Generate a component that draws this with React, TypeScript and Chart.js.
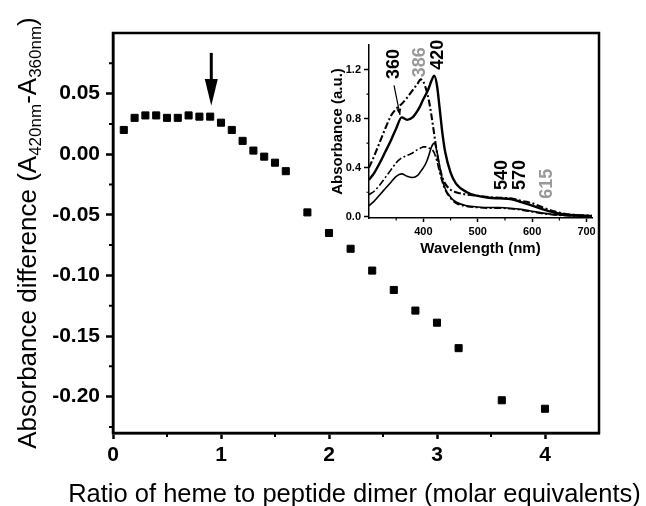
import React, { useEffect, useRef } from "react";
import { Chart, registerables } from "chart.js";

Chart.register(...registerables);

const FONT = "'Liberation Sans', Arial, Helvetica, sans-serif";

// ---------- Main titration plot ----------
const ratio = [0.1, 0.2, 0.3, 0.4, 0.5, 0.6, 0.7, 0.8, 0.9, 1.0, 1.1, 1.2, 1.3, 1.4, 1.5, 1.6, 1.8, 2.0, 2.2, 2.4, 2.6, 2.8, 3.0, 3.2, 3.6, 4.0];
const absDiff = [0.020, 0.030, 0.032, 0.032, 0.030, 0.030, 0.032, 0.031, 0.031, 0.026, 0.020, 0.011, 0.003, -0.002, -0.007, -0.014, -0.048, -0.065, -0.078, -0.096, -0.112, -0.129, -0.139, -0.160, -0.203, -0.210];

const mainXTicks = [0, 1, 2, 3, 4];
const mainYTicks = [-0.2, -0.15, -0.1, -0.05, 0, 0.05];
const mainXTitle = "Ratio of heme to peptide dimer (molar equivalents)";
const mainYTitleParts: [string, boolean][] = [
  ["Absorbance difference (A", false],
  ["420nm", true],
  ["-A", false],
  ["360nm", true],
  [")", false],
];
const mainMinorX = [0.5, 1.5, 2.5, 3.5];
const mainMinorY = [0.075, 0.025, -0.025, -0.075, -0.125, -0.175, -0.225];
// arrow marking the break point (data units)
const arrowRatio = 0.91;
const arrowFrom = 0.0836;
const arrowHeadBase = 0.062;
const arrowTo = 0.04;

// ---------- Inset spectra ----------
const wavelength = [300, 310, 320, 330, 340, 350, 360, 370, 380, 390, 395, 400, 405, 410, 415, 420, 425, 430, 435, 440, 450, 460, 480, 500, 520, 540, 560, 580, 600, 620, 640, 660, 680, 700, 710];
const specSolidHigh = [0.30, 0.36, 0.44, 0.53, 0.62, 0.72, 0.81, 0.79, 0.81, 0.87, 0.91, 0.96, 1.00, 1.05, 1.11, 1.15, 1.07, 0.88, 0.68, 0.53, 0.36, 0.27, 0.20, 0.17, 0.155, 0.15, 0.145, 0.12, 0.09, 0.06, 0.035, 0.02, 0.012, 0.008, 0.006];
const specDashHigh = [0.40, 0.50, 0.61, 0.72, 0.82, 0.88, 0.92, 0.97, 1.03, 1.09, 1.12, 1.10, 1.04, 0.95, 0.82, 0.67, 0.52, 0.40, 0.32, 0.27, 0.22, 0.20, 0.18, 0.17, 0.16, 0.155, 0.15, 0.13, 0.11, 0.075, 0.045, 0.025, 0.015, 0.01, 0.008];
const specSolidLow = [0.09, 0.13, 0.18, 0.23, 0.28, 0.33, 0.35, 0.33, 0.32, 0.34, 0.37, 0.40, 0.44, 0.50, 0.57, 0.60, 0.53, 0.41, 0.30, 0.23, 0.16, 0.12, 0.09, 0.08, 0.075, 0.075, 0.07, 0.06, 0.045, 0.03, 0.018, 0.01, 0.007, 0.005, 0.004];
const specDashLow = [0.18, 0.21, 0.26, 0.32, 0.38, 0.44, 0.48, 0.50, 0.52, 0.55, 0.56, 0.57, 0.57, 0.56, 0.55, 0.52, 0.45, 0.36, 0.28, 0.22, 0.15, 0.11, 0.085, 0.075, 0.07, 0.07, 0.065, 0.055, 0.04, 0.025, 0.015, 0.01, 0.006, 0.004, 0.003];

const insetXTicks = [400, 500, 600, 700];
const insetYTicks = [0, 0.4, 0.8, 1.2];
const insetXTitle = "Wavelength (nm)";
const insetYTitle = "Absorbance (a.u.)";
const insetMinorX = [350, 450, 550, 650];
const insetMinorY = [0.2, 0.6, 1.0];

const peakLabels = ["360", "386", "420", "540", "570", "615"];
const peakLabelNm = [346, 393, 427, 544, 577, 627];
const peakLabelAbs = [1.245, 1.26, 1.32, 0.34, 0.34, 0.27];
const peakLabelColor = ["#000", "#999", "#000", "#000", "#000", "#999"];
const pointerFrom = [346, 1.07];
const pointerTo = [357, 0.83];

const INSET_LEFT = 325;
const INSET_TOP = 33;
const INSET_W = 280;
const INSET_H = 232;

Chart.defaults.font.family = FONT;
Chart.defaults.color = "#000";

const mainDecor = {
  id: "mainDecor",
  afterDraw(chart: any) {
    const { ctx, chartArea: a, scales } = chart;
    const x = scales.x;
    const y = scales.y;
    ctx.save();
    ctx.strokeStyle = "#000";
    ctx.fillStyle = "#000";
    ctx.lineWidth = 2.5;
    ctx.strokeRect(a.left, a.top, a.right - a.left, a.bottom - a.top);
    // minor ticks
    ctx.lineWidth = 2;
    ctx.beginPath();
    mainMinorX.forEach((v) => {
      const px = x.getPixelForValue(v);
      ctx.moveTo(px, a.bottom);
      ctx.lineTo(px, a.bottom + 4);
    });
    mainMinorY.forEach((v) => {
      const py = y.getPixelForValue(v);
      ctx.moveTo(a.left, py);
      ctx.lineTo(a.left - 4, py);
    });
    ctx.stroke();
    // arrow
    const ax = x.getPixelForValue(arrowRatio);
    const y0 = y.getPixelForValue(arrowFrom);
    const yb = y.getPixelForValue(arrowHeadBase);
    const yt = y.getPixelForValue(arrowTo);
    ctx.lineWidth = 3;
    ctx.beginPath();
    ctx.moveTo(ax, y0);
    ctx.lineTo(ax, yb + 1);
    ctx.stroke();
    ctx.beginPath();
    ctx.moveTo(ax - 6.5, yb);
    ctx.lineTo(ax + 6.5, yb);
    ctx.lineTo(ax, yt);
    ctx.closePath();
    ctx.fill();
    // x title (drawn without width compression)
    ctx.font = `25.5px ${FONT}`;
    ctx.textAlign = "center";
    ctx.textBaseline = "alphabetic";
    ctx.fillText(mainXTitle, (a.left + a.right) / 2 - 1.5, a.bottom + 69);
    // y title with subscripts
    const mainFont = `26px ${FONT}`;
    const subFont = `17px ${FONT}`;
    ctx.translate(36, (a.top + a.bottom) / 2);
    ctx.rotate(-Math.PI / 2);
    ctx.textAlign = "left";
    let total = 0;
    mainYTitleParts.forEach(([t, sub]) => {
      ctx.font = sub ? subFont : mainFont;
      total += ctx.measureText(t).width;
    });
    let cx = -total / 2;
    mainYTitleParts.forEach(([t, sub]) => {
      ctx.font = sub ? subFont : mainFont;
      ctx.fillText(t, cx, sub ? 5 : 0);
      cx += ctx.measureText(t).width;
    });
    ctx.restore();
  },
};

const insetDecor = {
  id: "insetDecor",
  afterDraw(chart: any) {
    const { ctx, chartArea: a, scales } = chart;
    const x = scales.x;
    const y = scales.y;
    ctx.save();
    ctx.strokeStyle = "#000";
    ctx.fillStyle = "#000";
    ctx.lineWidth = 1.2;
    ctx.beginPath();
    insetMinorX.forEach((v) => {
      const px = x.getPixelForValue(v);
      ctx.moveTo(px, a.bottom);
      ctx.lineTo(px, a.bottom + 2.5);
    });
    insetMinorY.forEach((v) => {
      const py = y.getPixelForValue(v);
      ctx.moveTo(a.left, py);
      ctx.lineTo(a.left - 2.5, py);
    });
    ctx.stroke();
    // peak labels
    ctx.font = `bold 18px ${FONT}`;
    ctx.textAlign = "center";
    ctx.textBaseline = "middle";
    peakLabels.forEach((t, i) => {
      ctx.save();
      ctx.translate(x.getPixelForValue(peakLabelNm[i]), y.getPixelForValue(peakLabelAbs[i]));
      ctx.rotate(-Math.PI / 2);
      ctx.fillStyle = peakLabelColor[i];
      ctx.fillText(t, 0, 0);
      ctx.restore();
    });
    // pointer arrow from "360" label to shoulder
    const x0 = x.getPixelForValue(pointerFrom[0]);
    const y0 = y.getPixelForValue(pointerFrom[1]);
    const x1 = x.getPixelForValue(pointerTo[0]);
    const y1 = y.getPixelForValue(pointerTo[1]);
    ctx.lineWidth = 1.2;
    ctx.beginPath();
    ctx.moveTo(x0, y0);
    ctx.lineTo(x1, y1);
    ctx.stroke();
    const ang = Math.atan2(y1 - y0, x1 - x0);
    const hl = 6;
    const hw = 2.5;
    ctx.beginPath();
    ctx.moveTo(x1, y1);
    ctx.lineTo(x1 - hl * Math.cos(ang) + hw * Math.sin(ang), y1 - hl * Math.sin(ang) - hw * Math.cos(ang));
    ctx.lineTo(x1 - hl * Math.cos(ang) - hw * Math.sin(ang), y1 - hl * Math.sin(ang) + hw * Math.cos(ang));
    ctx.closePath();
    ctx.fill();
    ctx.restore();
  },
};

const fixedTicks = (vals: number[]) => (s: any) => {
  s.ticks = vals.map((v) => ({ value: v }));
};

export default function App() {
  const mainRef = useRef<HTMLCanvasElement>(null);
  const insetRef = useRef<HTMLCanvasElement>(null);

  useEffect(() => {
    const main = new Chart(mainRef.current as HTMLCanvasElement, {
      type: "scatter",
      data: {
        datasets: [
          {
            data: ratio.map((r, i) => ({ x: r, y: absDiff[i] })),
            pointStyle: "rect",
            pointRadius: 5,
            pointHoverRadius: 5,
            backgroundColor: "#000",
            borderColor: "#000",
            borderWidth: 1,
          },
        ],
      },
      options: {
        responsive: false,
        animation: false,
        events: [],
        layout: { padding: { left: 0, right: 47, top: 33, bottom: 0 } },
        plugins: { legend: { display: false }, tooltip: { enabled: false } },
        scales: {
          x: {
            type: "linear",
            min: 0,
            max: 4.5,
            afterBuildTicks: fixedTicks(mainXTicks),
            afterFit: (s: any) => {
              s.height = 73;
            },
            ticks: {
              autoSkip: false,
              maxRotation: 0,
              padding: 4,
              color: "#000",
              font: { family: FONT, size: 21, weight: "bold", lineHeight: 1.2 },
              callback: (v: any) => String(v),
            },
            grid: { drawOnChartArea: false, tickLength: 6, tickWidth: 2.5, tickColor: "#000" },
            border: { color: "#000", width: 2.5 },
          },
          y: {
            type: "linear",
            min: -0.23,
            max: 0.1,
            afterBuildTicks: fixedTicks(mainYTicks),
            afterFit: (s: any) => {
              s.width = 113;
            },
            ticks: {
              autoSkip: false,
              padding: 6,
              color: "#000",
              font: { family: FONT, size: 21, weight: "bold", lineHeight: 1.2 },
              callback: (v: any) => {
                const n = Math.abs(Number(v)) < 1e-9 ? 0 : Number(v);
                return n.toFixed(2);
              },
            },
            grid: { drawOnChartArea: false, tickLength: 7, tickWidth: 2.5, tickColor: "#000" },
            border: { color: "#000", width: 2.5 },
          },
        },
      },
      plugins: [mainDecor],
    } as any);

    const dash = [7, 2.5, 2, 2.5];
    const mk = (vals: number[], width: number, dashed: boolean) => ({
      data: wavelength.map((w, i) => ({ x: w, y: vals[i] })),
      borderColor: "#000",
      borderWidth: width,
      borderDash: dashed ? dash : [],
      pointRadius: 0,
      fill: false,
      cubicInterpolationMode: "monotone",
    });

    const inset = new Chart(insetRef.current as HTMLCanvasElement, {
      type: "line",
      data: {
        datasets: [
          mk(specSolidHigh, 2.4, false),
          mk(specDashHigh, 2.1, true),
          mk(specSolidLow, 1.6, false),
          mk(specDashLow, 1.6, true),
        ],
      },
      options: {
        responsive: false,
        animation: false,
        events: [],
        layout: { padding: { left: 0, right: INSET_W - 267, top: 12, bottom: 0 } },
        plugins: { legend: { display: false }, tooltip: { enabled: false } },
        scales: {
          x: {
            type: "linear",
            min: 300,
            max: 710,
            afterBuildTicks: fixedTicks(insetXTicks),
            afterFit: (s: any) => {
              s.height = INSET_H - 185;
            },
            ticks: {
              autoSkip: false,
              maxRotation: 0,
              padding: 3,
              color: "#000",
              font: { family: FONT, size: 11, weight: "bold", lineHeight: 1.2 },
              callback: (v: any) => String(v),
            },
            grid: { drawOnChartArea: false, tickLength: 4, tickWidth: 1.5, tickColor: "#000" },
            border: { color: "#000", width: 1.5 },
            title: {
              display: true,
              text: insetXTitle,
              color: "#000",
              font: { family: FONT, size: 15, weight: "bold", lineHeight: 1 },
              padding: { top: 0, bottom: 9 },
            },
          },
          y: {
            type: "linear",
            min: -0.01,
            max: 1.4,
            afterBuildTicks: fixedTicks(insetYTicks),
            afterFit: (s: any) => {
              s.width = 44;
            },
            ticks: {
              autoSkip: false,
              padding: 3,
              color: "#000",
              font: { family: FONT, size: 11, weight: "bold", lineHeight: 1.2 },
              callback: (v: any) => Number(v).toFixed(1),
            },
            grid: { drawOnChartArea: false, tickLength: 5, tickWidth: 1.5, tickColor: "#000" },
            border: { color: "#000", width: 1.5 },
            title: {
              display: true,
              text: insetYTitle,
              color: "#000",
              font: { family: FONT, size: 15, weight: "bold", lineHeight: 1 },
              padding: { top: 5, bottom: 0 },
            },
          },
        },
      },
      plugins: [insetDecor],
    } as any);

    return () => {
      main.destroy();
      inset.destroy();
    };
  }, []);

  return (
    <div
      style={{
        position: "fixed",
        left: 0,
        top: 0,
        width: 646,
        height: 506,
        background: "#fff",
        overflow: "hidden",
      }}
    >
      <canvas ref={mainRef} width={646} height={506} style={{ position: "absolute", left: 0, top: 0 }} />
      <canvas
        ref={insetRef}
        width={INSET_W}
        height={INSET_H}
        style={{ position: "absolute", left: INSET_LEFT, top: INSET_TOP }}
      />
    </div>
  );
}
